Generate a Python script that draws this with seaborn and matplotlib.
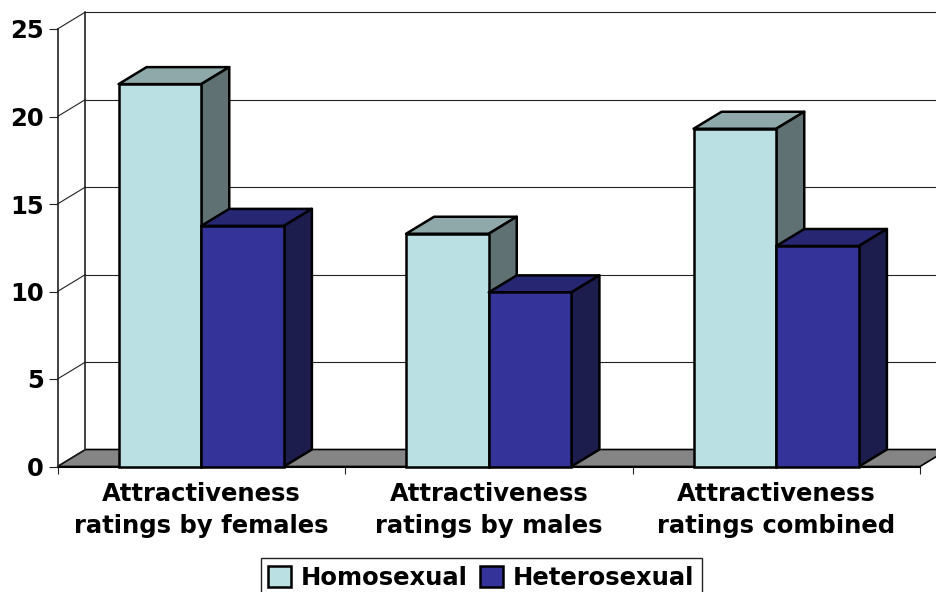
import matplotlib.pyplot as plt
from matplotlib.patches import Polygon
import pandas as pd
import seaborn as sns

# values
categories = ['Attractiveness\nratings by females', 'Attractiveness\nratings by males',
              'Attractiveness\nratings combined']
homosexual = [21.85, 13.3, 19.3]
heterosexual = [13.75, 9.95, 12.6]
y_ticks = [0, 5, 10, 15, 20, 25]

front_colors = {'Homosexual': '#BBE0E3', 'Heterosexual': '#333399'}
top_colors = {'Homosexual': '#8FA9AB', 'Heterosexual': '#262673'}
side_colors = {'Homosexual': '#5F7173', 'Heterosexual': '#1C1C4D'}

W, H = 936, 592
X0, X1, Y0, Y25 = 57.5, 920, 466.5, 29
# how far the 3d depth goes, in data units
dx = 28 / ((X1 - X0) / 3)
dy = 17 / ((Y0 - Y25) / 25)

df = pd.DataFrame({
    'category': categories * 2,
    'group': ['Homosexual'] * 3 + ['Heterosexual'] * 3,
    'value': homosexual + heterosexual,
})

sns.set_theme(style='ticks')
plt.rcParams['font.family'] = ['DejaVu Sans']

fig = plt.figure(figsize=(W / 100, H / 100), dpi=100)
ax = fig.add_axes([X0 / W, 1 - Y0 / H, (X1 - X0) / W, (Y0 - Y25) / H])
ax.patch.set_alpha(0)

sns.barplot(data=df, x='category', y='value', hue='group', palette=front_colors,
            width=0.575, edgecolor='black', linewidth=1.8, saturation=1, ax=ax)
ax.set_xlim(-0.5, 2.5)
ax.set_ylim(0, 25)
ax.set_xlabel('')
ax.set_ylabel('')

# back wall, floor and grid
left, right = -0.5, 2.5
ax.add_patch(Polygon([(left, 0), (right, 0), (right + dx, dy), (left + dx, dy)],
                     facecolor='#858585', edgecolor='black', linewidth=1.2,
                     clip_on=False, zorder=1))
ax.plot([left + dx, left + dx], [dy, 25 + dy], color='#222222', lw=1.2, clip_on=False, zorder=1)
for t in y_ticks:
    ax.plot([left, left + dx], [t, t + dy], color='#222222', lw=0.8, clip_on=False, zorder=1)
    if t > 0:
        ax.plot([left + dx, right + dx], [t + dy, t + dy], color='#222222', lw=0.8,
                clip_on=False, zorder=1)

# front faces come from seaborn, add the top and the side of each bar
bars = []
for container, group in zip(ax.containers, ['Homosexual', 'Heterosexual']):
    for bar in container:
        bars.append((bar, group))
bars.sort(key=lambda b: b[0].get_x())

for i, (bar, group) in enumerate(bars):
    x = bar.get_x()
    w = bar.get_width()
    h = bar.get_height()
    z = 3 + i
    bar.set_zorder(z + 0.5)
    bar.set_clip_on(False)
    ax.add_patch(Polygon([(x, h), (x + w, h), (x + w + dx, h + dy), (x + dx, h + dy)],
                         facecolor=top_colors[group], edgecolor='black', linewidth=1.8,
                         joinstyle='round', clip_on=False, zorder=z))
    ax.add_patch(Polygon([(x + w, 0), (x + w + dx, dy), (x + w + dx, h + dy), (x + w, h)],
                         facecolor=side_colors[group], edgecolor='black', linewidth=1.8,
                         joinstyle='round', clip_on=False, zorder=z))

ax.set_yticks(y_ticks)
ax.set_xticks([-0.5, 0.5, 1.5, 2.5])
ax.set_xticklabels([])
ax.set_xticks([0, 1, 2], labels=categories, minor=True)
ax.tick_params(axis='x', which='major', length=5, width=0.8, color='#222222')
ax.tick_params(axis='x', which='minor', length=0, pad=11.5, labelsize=17.5)
ax.tick_params(axis='y', length=6.5, width=0.8, color='#222222', pad=3.5, labelsize=17.5)
for lab in ax.get_xticklabels(minor=True) + ax.get_yticklabels():
    lab.set_fontweight('bold')
    lab.set_color('black')
    lab.set_linespacing(1.42)

sns.despine(ax=ax, top=True, right=True)
ax.spines['left'].set_linewidth(1.2)
ax.spines['left'].set_color('#222222')
ax.spines['bottom'].set_linewidth(1.5)
ax.spines['bottom'].set_color('black')
ax.spines['bottom'].set_zorder(2)

handles, labels = ax.get_legend_handles_labels()
leg = ax.legend(handles, labels, ncol=2, loc='lower left',
                bbox_to_anchor=(261 / W, -5 / H), bbox_transform=fig.transFigure,
                frameon=True, fancybox=False, framealpha=1, edgecolor='#222222',
                borderaxespad=0, borderpad=0.3, handlelength=0.95, handleheight=0.95,
                handletextpad=0.4, columnspacing=0.5, labelcolor='black',
                prop={'family': 'DejaVu Sans', 'weight': 'bold', 'size': 17.5})
leg.get_frame().set_linewidth(1)
leg.set_clip_on(False)

fig.savefig('out.png', dpi=100)
